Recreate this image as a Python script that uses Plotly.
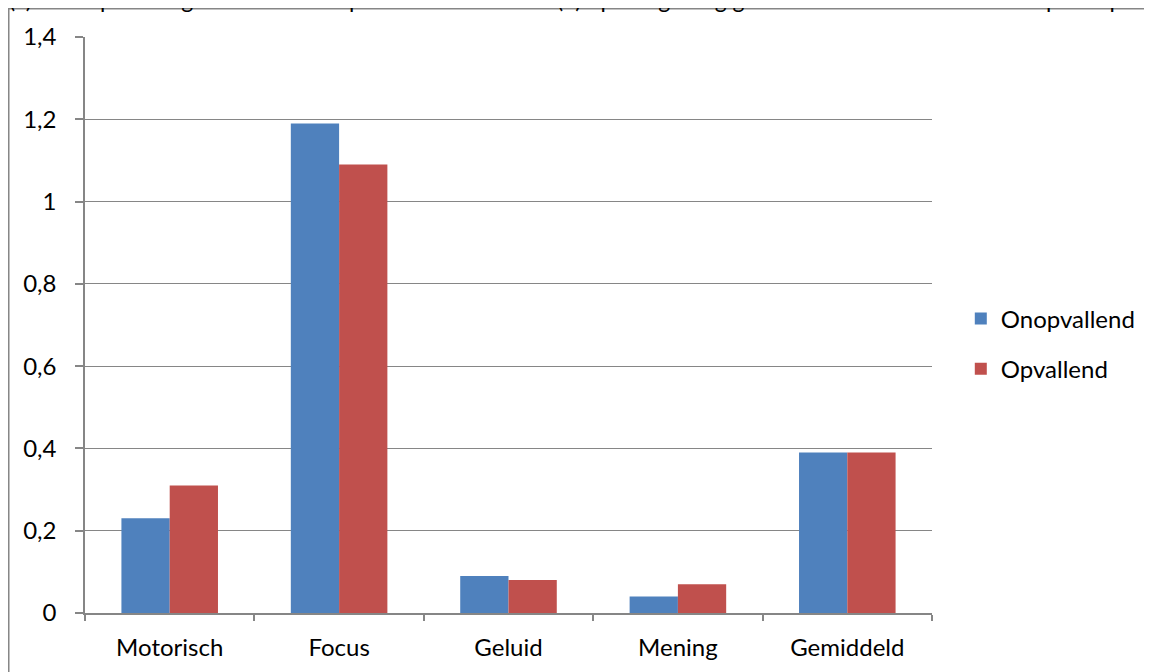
import plotly.graph_objects as go

categories = ['Motorisch', 'Focus', 'Geluid', 'Mening', 'Gemiddeld']
onopvallend = [0.23, 1.19, 0.09, 0.04, 0.39]
opvallend = [0.31, 1.09, 0.08, 0.07, 0.39]
y_ticks = [0, 0.2, 0.4, 0.6, 0.8, 1, 1.2, 1.4]

font = dict(family='Lato, Open Sans, sans-serif', size=24, color='#000000')

fig = go.Figure()
fig.add_trace(go.Bar(x=categories, y=onopvallend, name='Onopvallend',
                     marker=dict(color='#4F81BD', line=dict(width=0)), legendgroup='a'))
fig.add_trace(go.Bar(x=categories, y=opvallend, name='Opvallend',
                     marker=dict(color='#C0504D', line=dict(width=0)), legendgroup='b'))

# outer chart border
fig.add_shape(type='rect', xref='paper', yref='paper', x0=-0.0900, x1=1.6, y0=-0.5, y1=1.049,
              line=dict(color='#868686', width=1.5), fillcolor='rgba(0,0,0,0)', layer='below')

# caption line, cut off at the top of the page
fig.add_annotation(xref='paper', yref='paper', x=-0.092, y=1.0385, xanchor='left', yanchor='bottom',
                   showarrow=False, font=dict(family='Lato, sans-serif', size=23, color='#000000'),
                   text='(a) Score per categorie van de onopvallende variant en '
                        '(b) op het gedrag gedurende de hele taak van de participant')

fig.update_layout(
    width=1152, height=672,
    margin=dict(l=77, r=228, t=29, b=67),
    paper_bgcolor='white', plot_bgcolor='white',
    font=font,
    separators=',.',
    barmode='group', bargap=0.43, bargroupgap=0,
    showlegend=True,
    legend=dict(x=1.034, y=0.467, xanchor='left', yanchor='middle',
                tracegroupgap=16, font=font, itemwidth=30),
    xaxis=dict(showline=True, linecolor='#868686', linewidth=1.5,
               ticks='outside', tickson='boundaries', ticklen=6, tickcolor='#868686',
               tickwidth=1.5, showgrid=False, tickfont=font, ticklabelstandoff=12),
    yaxis=dict(range=[0, 1.4], tickvals=y_ticks, showline=True, linecolor='#868686', linewidth=1.5,
               ticks='outside', ticklen=8, tickcolor='#868686', tickwidth=1.5,
               showgrid=True, gridcolor='#868686', gridwidth=1.2, zeroline=False,
               tickfont=font, ticklabelstandoff=14),
)

fig.write_html('out.html')
